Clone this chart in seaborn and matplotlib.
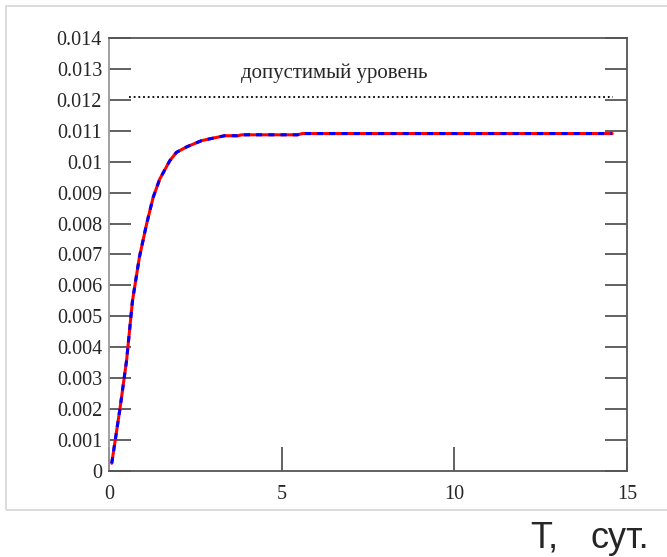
import numpy as np
import pandas as pd
import seaborn as sns
import matplotlib.pyplot as plt
from matplotlib.patches import Rectangle

# curve (T in days, concentration)
t_days = [0.08, 0.32, 0.51, 0.68, 0.88, 1.09, 1.28, 1.47, 1.76, 1.95, 2.25, 2.68,
          2.92, 3.35, 3.73, 3.84, 5.46, 5.6, 14.57]
conc = [0.00025, 0.00203, 0.00358, 0.0055, 0.00691, 0.00799, 0.00885, 0.00944,
        0.01003, 0.0103, 0.01048, 0.01068, 0.01074, 0.01084, 0.01084, 0.01087,
        0.01087, 0.01091, 0.01091]

limit_level = 0.0121
limit_t = [0.58, 14.6]
limit_label = "допустимый уровень"

x_ticks = [0, 5, 10, 15]
y_ticks = [0, 0.001, 0.002, 0.003, 0.004, 0.005, 0.006, 0.007, 0.008, 0.009,
           0.01, 0.011, 0.012, 0.013, 0.014]
y_tick_labels = ["0", "0.001", "0.002", "0.003", "0.004", "0.005", "0.006", "0.007",
                 "0.008", "0.009", "0.01", "0.011", "0.012", "0.013", "0.014"]

sns.set_style("white")
plt.rcParams['font.family'] = ['Liberation Serif', 'DejaVu Serif']

df = pd.DataFrame({'T': t_days, 'C': conc})
lim_df = pd.DataFrame({'T': limit_t, 'C': [limit_level] * len(limit_t)})

fig = plt.figure(figsize=(6.67, 5.57), dpi=100)
ax = fig.add_axes([0.1634, 0.1544, 0.9400 - 0.1634, 0.9318 - 0.1544])

# light outer frame like the original screenshot
fig.patches.append(Rectangle((6 / 667, 1 - 510 / 557), 1.0, (510 - 6) / 557,
                             transform=fig.transFigure, fill=False,
                             edgecolor='#d6d6d6', linewidth=1.2))

sns.lineplot(data=df, x='T', y='C', color='red', linewidth=2.2, ax=ax)
sns.lineplot(data=df, x='T', y='C', color='blue', linewidth=2.2, ax=ax,
             dashes=False, linestyle=(0, (2.0, 2.0)))
sns.lineplot(data=lim_df, x='T', y='C', color='black', linewidth=1.3, ax=ax,
             linestyle=(0, (1, 1.6)))

ax.text(6.53, 0.01287, limit_label, ha='center', va='center', fontsize=15)

ax.set_xlim(0, 15)
ax.set_ylim(0, 0.014)
ax.set_xticks(x_ticks)
ax.set_xticklabels([str(v) for v in x_ticks], fontsize=14.5)
ax.set_yticks(y_ticks)
ax.set_yticklabels(y_tick_labels, fontsize=14.5)
ax.set_xlabel('')
ax.set_ylabel('')

ax.tick_params(axis='y', direction='in', length=16, width=1.3, color='#555555',
               left=True, right=True, pad=5)
ax.tick_params(axis='x', direction='in', length=17, width=1.3, color='#555555',
               bottom=True, top=False, pad=10)
for lt, rt in zip(ax.yaxis.get_major_ticks(), y_ticks):
    if round(rt * 1000) in (6, 11, 13):
        lt.tick1line.set_color('#aaaaaa')
        lt.tick2line.set_color('#aaaaaa')

for side in ['top', 'right', 'bottom']:
    ax.spines[side].set_color('#555555')
    ax.spines[side].set_linewidth(1.3)
ax.spines['left'].set_color('#999999')
ax.spines['left'].set_linewidth(1.3)

sans = ['Liberation Sans', 'DejaVu Sans']
fig.text(530 / 667, 1 - 548 / 557, 'T,', fontsize=26, family=sans,
         ha='left', va='baseline')
fig.text(590 / 667, 1 - 548 / 557, 'сут.', fontsize=26, family=sans,
         ha='left', va='baseline')

fig.savefig('out.png', dpi=100)
